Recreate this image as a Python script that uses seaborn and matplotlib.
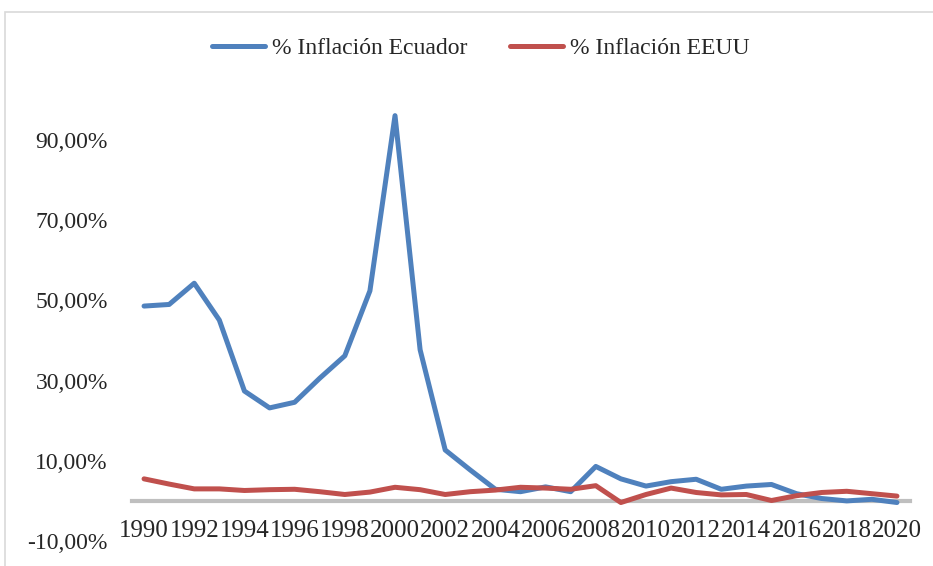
"""Inflación Ecuador vs EEUU, 1990-2020"""

import matplotlib

matplotlib.use("Agg")
import matplotlib.pyplot as plt
import pandas as pd
import seaborn as sb
from matplotlib.patches import Rectangle
from matplotlib.ticker import FuncFormatter

years = list(range(1990, 2021))
ecuador = [48.6, 49.0, 54.3, 45.1, 27.4, 23.2, 24.6, 30.6, 36.2, 52.4,
           96.1, 37.7, 12.7, 7.7, 2.9, 2.3, 3.5, 2.3, 8.6, 5.5,
           3.7, 4.8, 5.4, 2.9, 3.7, 4.1, 1.8, 0.6, 0.0, 0.4, -0.4]
eeuu = [5.5, 4.2, 3.0, 3.0, 2.6, 2.8, 2.9, 2.3, 1.6, 2.2,
        3.4, 2.8, 1.6, 2.3, 2.7, 3.4, 3.2, 2.9, 3.8, -0.4,
        1.6, 3.2, 2.1, 1.5, 1.6, 0.1, 1.3, 2.1, 2.4, 1.8, 1.2]
series_names = ["% Inflación Ecuador", "% Inflación EEUU"]
colors = ["#4F81BD", "#C0504D"]
yticks = [-10, 10, 30, 50, 70, 90]

df = pd.DataFrame({"year": years, series_names[0]: ecuador, series_names[1]: eeuu})
long = df.melt(id_vars="year", var_name="serie", value_name="valor")

sb.set_style("white")
plt.rcParams["font.family"] = ["Liberation Serif", "DejaVu Serif"]

fig = plt.figure(figsize=(9.33, 5.66), dpi=100)
# outer chart border
fig.patches.append(Rectangle((5 / 933, -0.1), 1.1, 1.1 - 12 / 566,
                             transform=fig.transFigure, fill=False,
                             edgecolor="#D9D9D9", linewidth=1.2))
ax = fig.add_axes([131.5 / 933, 25 / 566, 778 / 933, 441 / 566])

sb.lineplot(data=long, x="year", y="valor", hue="serie", palette=colors,
            linewidth=3.6, ax=ax, zorder=3, legend=False)

ax.set_xlim(1989.5, 2020.5)
ax.set_ylim(-10, 100)
ax.set_xticks(years[::2])
ax.set_xticklabels([str(y) for y in years[::2]])
ax.set_yticks(yticks)
ax.yaxis.set_major_formatter(FuncFormatter(lambda v, _: f"{v:.2f}%".replace(".", ",")))
ax.tick_params(axis="x", length=0, pad=13.5, labelsize=18)
ax.tick_params(axis="y", length=0, pad=17, labelsize=17)
ax.set_xlabel("")
ax.set_ylabel("")

for side in ["top", "right", "left"]:
    ax.spines[side].set_visible(False)
ax.spines["bottom"].set_position(("data", 0))
ax.spines["bottom"].set_color("#BFBFBF")
ax.spines["bottom"].set_linewidth(3)

handles = [plt.Line2D([], [], color=c, linewidth=3.6, solid_capstyle="round") for c in colors]
fig.legend(handles, series_names, loc="center", bbox_to_anchor=(481 / 933, 1 - 48 / 566),
           ncol=2, frameon=False, fontsize=17, handlelength=2.25,
           handletextpad=0.3, columnspacing=1.8)

fig.savefig("out.png", dpi=100)
